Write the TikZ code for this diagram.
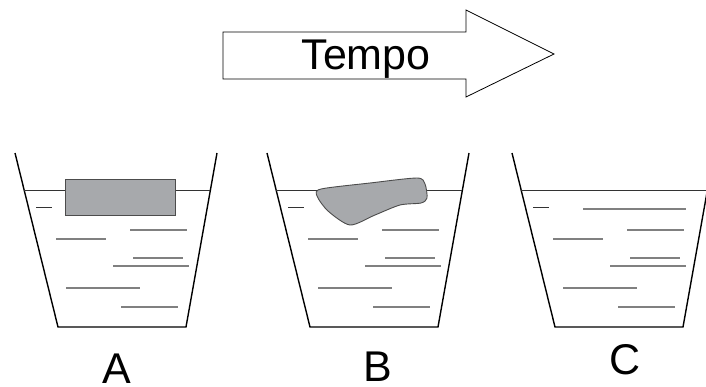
\documentclass[tikz,border=0pt]{standalone}
\usepackage{fontspec}
\setmainfont{Liberation Sans}
\usetikzlibrary{positioning}

\definecolor{blockgray}{HTML}{A7A9AC}
\definecolor{ripplegray}{HTML}{808080}

\tikzset{
  wall/.style={draw=black, line width=1.4pt, line join=miter},
  surface/.style={draw=black!80, line width=0.9pt},
  ripple/.style={draw=ripplegray, line width=1.2pt},
  timearrow/.style={draw=black, line width=0.8pt, fill=white},
  block/.style={draw=black!70, line width=0.9pt, fill=blockgray},
  tag/.style={font=\fontsize{43}{50}\selectfont, inner sep=0pt, anchor=base}
}

\begin{document}
\begin{tikzpicture}[x=1pt, y=-1pt]
    \useasboundingbox (0,0) rectangle (706,386);
    \clip (0,0) rectangle (706,386);

    % Time arrow
    \draw[timearrow] (223,32) -- (466,32) -- (466,10) -- (554,54) -- (466,97) -- (466,79) -- (223,79) -- cycle;
    \node[tag] (tempo) at (366,69) {Tempo};

    % Beakers: walls, water surface and ripples
    \foreach \dx in {0,252,497} {
      \begin{scope}[xshift=\dx]
        \draw[wall] (15,153) -- (58,327) -- (186,327) -- (217,153);
        \draw[surface] (24,190) -- (210,190);
        \draw[surface, line width=1pt] (36,207) -- (52,207);
        \draw[ripple] (130,230) -- (187,230);
        \draw[ripple] (56,239) -- (106,239);
        \draw[ripple] (133,258) -- (183,258);
        \draw[ripple] (113,266) -- (189,266);
        \draw[ripple] (66,288) -- (140,288);
        \draw[ripple] (121,307) -- (178,307);
      \end{scope}
    }

    % A: solid block floating
    \draw[block] (65,179) rectangle (175,215);

    % B: block partly dissolved
    \draw[block] plot[smooth cycle, tension=0.45] coordinates {
      (321,189) (370,183) (417,178) (425,184) (427,198) (421,203)
      (400,205) (375,215) (350,225) (328,211) (317,196)};

    % C: block gone
    \draw[ripple] (583,209) -- (686,209);

    % Labels
    \node[tag] (labA) at (117,383) {A};
    \node[tag] (labB) at (378,381) {B};
    \node[tag] (labC) at (625,374) {C};
\end{tikzpicture}
\end{document}
